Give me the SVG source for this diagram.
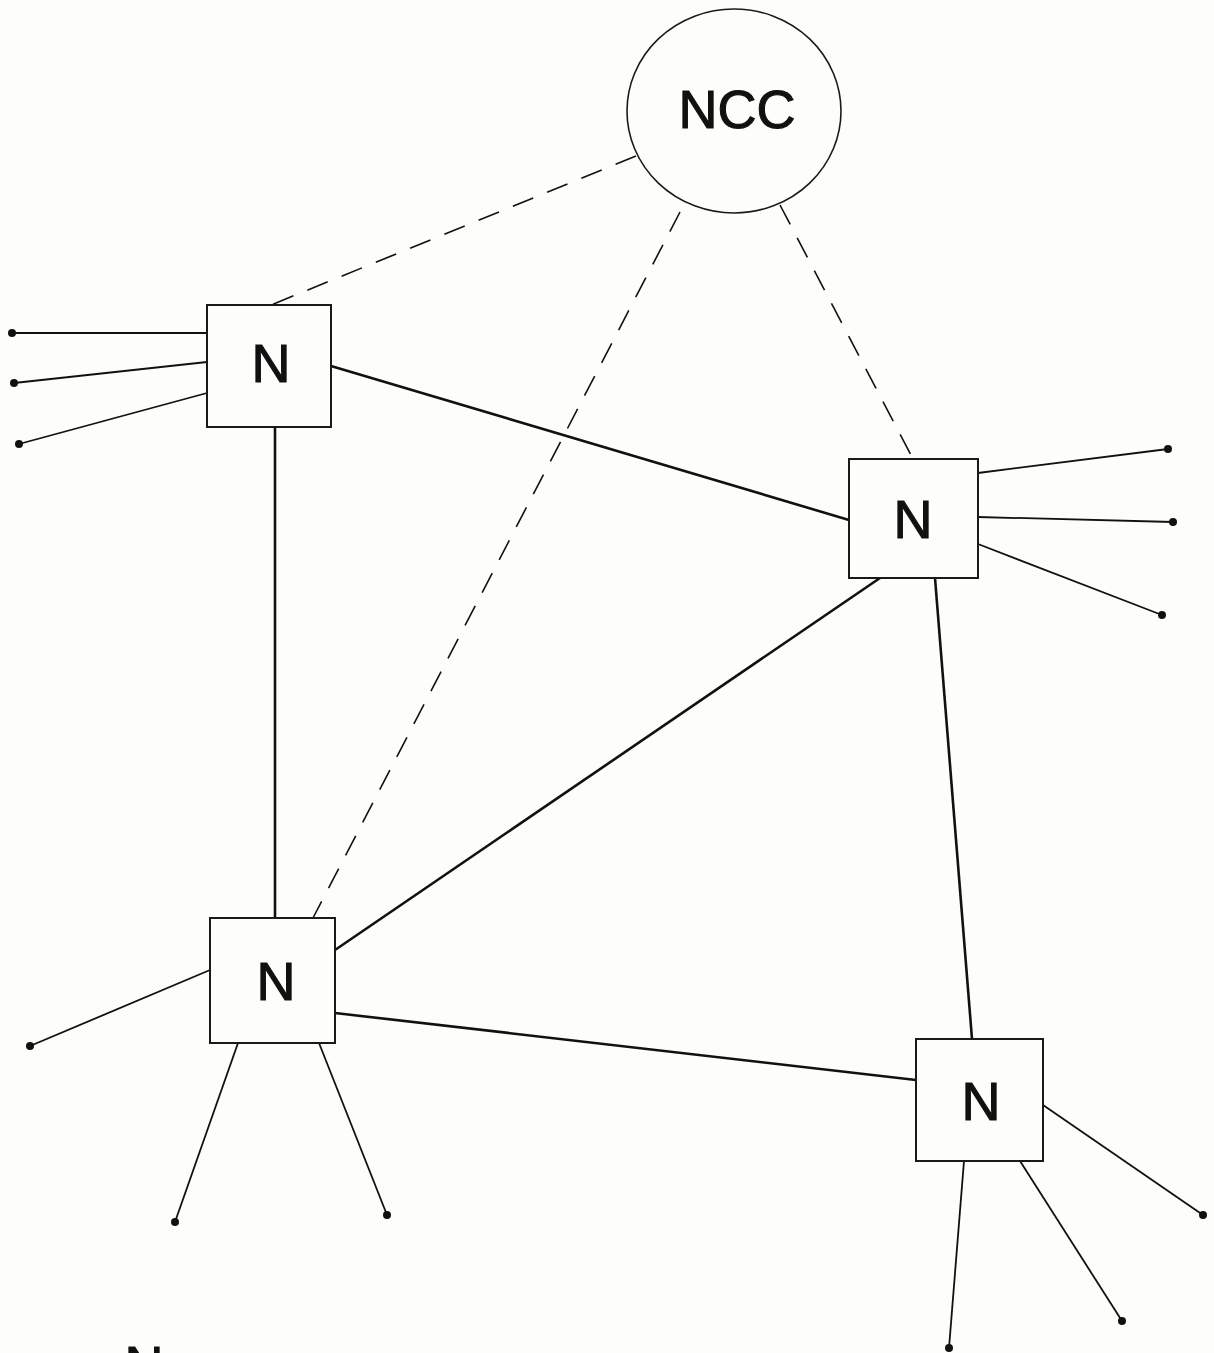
<svg xmlns="http://www.w3.org/2000/svg" width="1214" height="1353" viewBox="0 0 1214 1353">
  <style>
    .bg { fill: #fdfdf9; }
    .box { fill: #fdfdf9; stroke: #1a1a1a; stroke-width: 2; }
    .ncc { fill: #fdfdf9; stroke: #1a1a1a; stroke-width: 1.6; }
    .label { font-family: "Liberation Sans", Arial, sans-serif; font-size: 54px; fill: #111; stroke: #111; stroke-width: 1.1; text-anchor: middle; }
    .trunk { stroke: #111; stroke-width: 2.6; fill: none; }
    .ctrl { stroke: #111; stroke-width: 1.6; fill: none; stroke-dasharray: 22 15; }
    .tail { stroke: #111; stroke-width: 1.8; fill: none; }
    .term { fill: #111; }
  </style>
  <rect class="bg" x="0" y="0" width="1214" height="1353"/>

  <g id="connectors">
    <!-- control links from NCC -->
    <line class="ctrl" x1="636" y1="156" x2="271" y2="305"/>
    <line class="ctrl" x1="680" y1="212" x2="313" y2="918"/>
    <line class="ctrl" x1="780" y1="205" x2="913" y2="459"/>
    <!-- trunk links between nodes -->
    <line class="trunk" x1="331" y1="366" x2="849" y2="520"/>
    <line class="trunk" x1="275" y1="427" x2="275" y2="918"/>
    <line class="trunk" x1="880" y1="578" x2="335" y2="950"/>
    <line class="trunk" x1="935" y1="578" x2="972" y2="1039"/>
    <line class="trunk" x1="335" y1="1013" x2="916" y2="1080"/>
    <!-- subscriber lines -->
    <line class="tail" x1="207" y1="333" x2="12" y2="333"/>
    <line class="tail" x1="207" y1="362" x2="14" y2="383"/>
    <line class="tail" x1="207" y1="393" x2="19" y2="444"/>
    <line class="tail" x1="978" y1="473" x2="1168" y2="449"/>
    <line class="tail" x1="978" y1="517" x2="1173" y2="522"/>
    <line class="tail" x1="978" y1="544" x2="1162" y2="615"/>
    <line class="tail" x1="210" y1="970" x2="30" y2="1046"/>
    <line class="tail" x1="238" y1="1043" x2="175" y2="1222"/>
    <line class="tail" x1="319" y1="1043" x2="387" y2="1215"/>
    <line class="tail" x1="1043" y1="1105" x2="1203" y2="1215"/>
    <line class="tail" x1="1020" y1="1161" x2="1122" y2="1321"/>
    <line class="tail" x1="964" y1="1161" x2="949" y2="1348"/>
    <!-- terminals -->
    <circle class="term" cx="12" cy="333" r="4"/>
    <circle class="term" cx="14" cy="383" r="4"/>
    <circle class="term" cx="19" cy="444" r="4"/>
    <circle class="term" cx="1168" cy="449" r="4"/>
    <circle class="term" cx="1173" cy="522" r="4"/>
    <circle class="term" cx="1162" cy="615" r="4"/>
    <circle class="term" cx="30" cy="1046" r="4"/>
    <circle class="term" cx="175" cy="1222" r="4"/>
    <circle class="term" cx="387" cy="1215" r="4"/>
    <circle class="term" cx="1203" cy="1215" r="4"/>
    <circle class="term" cx="1122" cy="1321" r="4"/>
    <circle class="term" cx="949" cy="1348" r="4"/>
  </g>

  <g id="ncc">
    <ellipse class="ncc" cx="734" cy="111" rx="107" ry="102"/>
    <text class="label" x="737" y="128">NCC</text>
  </g>

  <g id="node-nw">
    <rect class="box" x="207" y="305" width="124" height="122"/>
    <text class="label" x="271" y="382">N</text>
  </g>

  <g id="node-e">
    <rect class="box" x="849" y="459" width="129" height="119"/>
    <text class="label" x="913" y="538">N</text>
  </g>

  <g id="node-sw">
    <rect class="box" x="210" y="918" width="125" height="125"/>
    <text class="label" x="276" y="1000">N</text>
  </g>

  <g id="node-se">
    <rect class="box" x="916" y="1039" width="127" height="122"/>
    <text class="label" x="981" y="1120">N</text>
  </g>

  <!-- legend letter running off the lower edge of the sheet -->
  <g id="legend">
    <text class="label" x="144" y="1384">N</text>
  </g>
</svg>
